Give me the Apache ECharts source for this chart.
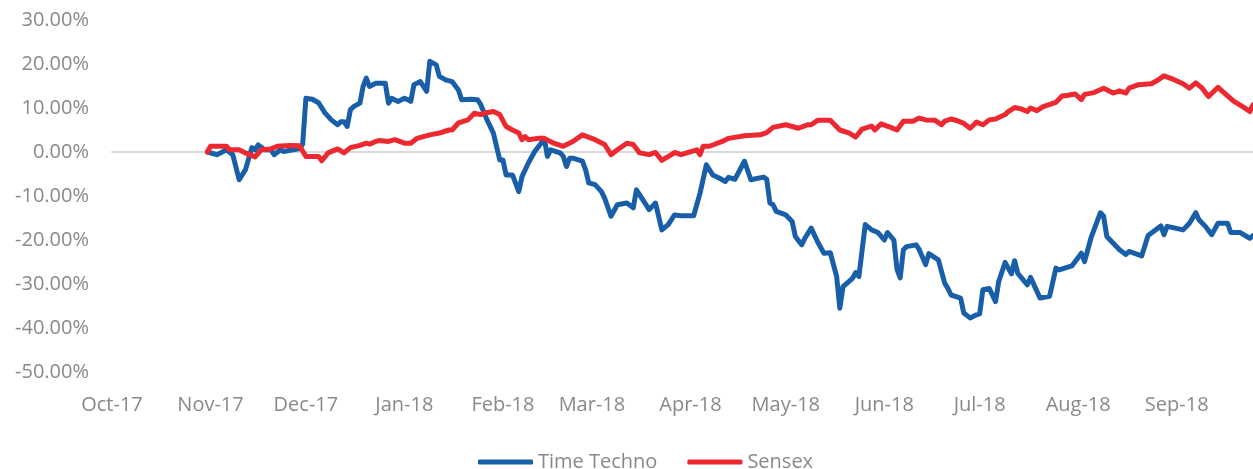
<!DOCTYPE html>
<html>
<head>
<meta charset="utf-8">
<script src="https://cdn.jsdelivr.net/npm/echarts@6/dist/echarts.min.js"></script>
<style>html,body{margin:0;padding:0;background:#fff;}#c{width:1253px;height:469px;}</style>
</head>
<body>
<div id="c"></div>
<script>
// Month ticks on the date axis
const monthStarts = ['2017-10-01','2017-11-01','2017-12-01','2018-01-01','2018-02-01','2018-03-01','2018-04-01','2018-05-01','2018-06-01','2018-07-01','2018-08-01','2018-09-01'];
const tickLabels = ['Oct-17','Nov-17','Dec-17','Jan-18','Feb-18','Mar-18','Apr-18','May-18','Jun-18','Jul-18','Aug-18','Sep-18'];
const yTicks = [-50,-40,-30,-20,-10,0,10,20,30];
const axisEnd = '2018-09-25';

// Time Techno (% return)
const ttDates = ['2017-10-31','2017-11-03','2017-11-05','2017-11-06','2017-11-08','2017-11-10','2017-11-12','2017-11-14','2017-11-15','2017-11-16','2017-11-18','2017-11-20','2017-11-21','2017-11-23','2017-11-24','2017-11-27','2017-11-29','2017-11-30',
'2017-12-01','2017-12-03','2017-12-05','2017-12-07','2017-12-09','2017-12-11','2017-12-12','2017-12-13','2017-12-14','2017-12-15','2017-12-16','2017-12-18','2017-12-19','2017-12-20','2017-12-21','2017-12-23','2017-12-26','2017-12-27','2017-12-28','2017-12-30',
'2018-01-01','2018-01-02','2018-01-03','2018-01-04','2018-01-06','2018-01-07','2018-01-08','2018-01-09','2018-01-11','2018-01-12','2018-01-14','2018-01-16','2018-01-18','2018-01-19','2018-01-22','2018-01-24','2018-01-25','2018-01-27','2018-01-29','2018-01-31',
'2018-02-01','2018-02-02','2018-02-04','2018-02-06','2018-02-07','2018-02-09','2018-02-11','2018-02-13','2018-02-14','2018-02-15','2018-02-16','2018-02-19','2018-02-20','2018-02-21','2018-02-22','2018-02-23','2018-02-26','2018-02-27','2018-02-28',
'2018-03-02','2018-03-04','2018-03-05','2018-03-07','2018-03-09','2018-03-12','2018-03-14','2018-03-15','2018-03-17','2018-03-19','2018-03-21','2018-03-23','2018-03-25','2018-03-27','2018-03-29',
'2018-04-02','2018-04-04','2018-04-06','2018-04-08','2018-04-10','2018-04-12','2018-04-13','2018-04-15','2018-04-18','2018-04-20','2018-04-24','2018-04-25','2018-04-26','2018-04-27','2018-04-28',
'2018-05-01','2018-05-03','2018-05-04','2018-05-06','2018-05-07','2018-05-09','2018-05-11','2018-05-13','2018-05-15','2018-05-17','2018-05-18','2018-05-19','2018-05-22','2018-05-23','2018-05-24','2018-05-26','2018-05-28','2018-05-30',
'2018-06-01','2018-06-02','2018-06-04','2018-06-05','2018-06-06','2018-06-07','2018-06-08','2018-06-11','2018-06-12','2018-06-14','2018-06-15','2018-06-18','2018-06-20','2018-06-21','2018-06-22','2018-06-25','2018-06-26','2018-06-28','2018-06-30',
'2018-07-01','2018-07-02','2018-07-04','2018-07-06','2018-07-07','2018-07-09','2018-07-11','2018-07-12','2018-07-13','2018-07-16','2018-07-17','2018-07-20','2018-07-23','2018-07-25','2018-07-26','2018-07-30',
'2018-08-02','2018-08-03','2018-08-05','2018-08-08','2018-08-09','2018-08-10','2018-08-14','2018-08-16','2018-08-17','2018-08-21','2018-08-23','2018-08-27','2018-08-28','2018-08-29',
'2018-09-03','2018-09-05','2018-09-07','2018-09-08','2018-09-10','2018-09-12','2018-09-14','2018-09-17','2018-09-18','2018-09-21','2018-09-23','2018-09-24','2018-09-25'];
const ttValues = [0,-0.6,0.1,0.5,-0.6,-6.3,-4,1.0,0.5,1.6,0.5,0.5,-0.6,0.5,0.1,0.5,0.8,1.8,
12.2,12.0,11.2,8.9,7.3,6.2,6.9,6.9,5.8,9.6,10.3,11.1,14.9,16.8,14.9,15.6,15.6,11.1,12.2,11.5,
12.2,11.9,11.5,15.3,16.0,14.9,13.8,20.6,19.8,17.2,16.4,16.0,14.1,11.9,12.0,11.9,10.8,7.3,4.3,-1.8,
-1.8,-5.2,-5.2,-9.0,-5.6,-2.5,0.1,2.0,3.1,-1.0,0.5,-0.2,-1.0,-3.3,-1.4,-1.4,-2.1,-4.0,-7.0,
-7.4,-9.0,-10.5,-14.6,-12.0,-11.6,-12.7,-8.6,-10.8,-13.1,-11.6,-17.7,-16.5,-14.3,-14.5,
-14.5,-9.4,-2.9,-5.2,-5.9,-6.7,-5.75,-6.2,-2.1,-6.3,-5.7,-6.2,-11.6,-12.0,-13.5,
-14.3,-15.8,-19.2,-21.1,-19.6,-17.3,-20.4,-23.0,-22.9,-28.3,-35.5,-30.6,-28.7,-27.4,-28.3,-16.5,-17.7,-18.3,
-20.0,-18.3,-20.0,-26.7,-28.6,-22.2,-21.5,-21.1,-22.2,-25.6,-23.1,-24.5,-29.8,-31.0,-32.5,-33.2,-36.6,-37.7,-37.0,
-36.8,-31.3,-31.0,-34.0,-29.4,-25.1,-27.7,-24.7,-27.6,-30.2,-28.5,-33.2,-32.8,-26.4,-26.8,-25.9,
-23.0,-24.9,-19.6,-13.8,-14.6,-19.2,-22.2,-23.3,-22.6,-23.6,-19.0,-16.8,-18.8,-16.9,
-17.7,-16.2,-13.8,-15.4,-16.9,-18.8,-16.2,-16.2,-18.3,-18.3,-19.2,-19.6,-19.0];

// Sensex (% return)
const sxDates = ['2017-10-31','2017-11-01','2017-11-03','2017-11-06','2017-11-07','2017-11-10','2017-11-12','2017-11-15','2017-11-17','2017-11-20','2017-11-22','2017-11-26','2017-11-29',
'2017-12-01','2017-12-05','2017-12-06','2017-12-08','2017-12-11','2017-12-13','2017-12-15','2017-12-18','2017-12-20','2017-12-21','2017-12-23','2017-12-24','2017-12-27','2017-12-29',
'2018-01-01','2018-01-03','2018-01-05','2018-01-09','2018-01-12','2018-01-15','2018-01-16','2018-01-18','2018-01-21','2018-01-23','2018-01-25','2018-01-26','2018-01-29','2018-01-31',
'2018-02-02','2018-02-04','2018-02-06','2018-02-07','2018-02-08','2018-02-09','2018-02-12','2018-02-14','2018-02-17','2018-02-20','2018-02-23','2018-02-26',
'2018-03-02','2018-03-05','2018-03-07','2018-03-09','2018-03-12','2018-03-14','2018-03-16','2018-03-19','2018-03-21','2018-03-23','2018-03-26','2018-03-27','2018-03-29',
'2018-04-03','2018-04-04','2018-04-05','2018-04-07','2018-04-11','2018-04-13','2018-04-18','2018-04-23','2018-04-25','2018-04-27',
'2018-05-01','2018-05-05','2018-05-08','2018-05-09','2018-05-11','2018-05-15','2018-05-18','2018-05-21','2018-05-23','2018-05-25','2018-05-28','2018-05-29','2018-05-31',
'2018-06-03','2018-06-05','2018-06-07','2018-06-10','2018-06-12','2018-06-14','2018-06-17','2018-06-19','2018-06-20','2018-06-22','2018-06-24','2018-06-26','2018-06-28','2018-06-30',
'2018-07-02','2018-07-04','2018-07-06','2018-07-09','2018-07-10','2018-07-12','2018-07-14','2018-07-16','2018-07-17','2018-07-19','2018-07-21','2018-07-25','2018-07-27','2018-07-28','2018-07-31',
'2018-08-02','2018-08-03','2018-08-06','2018-08-09','2018-08-12','2018-08-14','2018-08-16','2018-08-17','2018-08-20','2018-08-24','2018-08-26','2018-08-28','2018-08-31',
'2018-09-03','2018-09-05','2018-09-07','2018-09-09','2018-09-11','2018-09-14','2018-09-16','2018-09-19','2018-09-22','2018-09-24','2018-09-25'];
const sxValues = [0,1.3,1.3,1.3,0.5,0.5,-0.2,-1.1,0.5,0.7,1.3,1.5,1.4,
-1.0,-1.0,-2.0,-0.2,0.7,-0.2,1.0,1.5,2.0,1.8,2.4,2.6,2.4,2.8,
2.0,2.0,3.1,3.9,4.3,5.0,5.0,6.6,7.3,8.8,8.5,8.8,9.2,8.5,
5.8,5.0,4.3,2.8,3.5,2.8,3.1,3.1,2.0,1.3,2.4,3.9,
2.8,1.7,-0.6,0.5,2.0,1.7,-0.2,-0.6,-0.1,-1.9,-0.6,-0.1,-0.6,
0.5,-0.6,1.3,1.3,2.4,3.1,3.7,3.9,4.4,5.6,
6.2,5.4,6.2,6.2,7.2,7.2,5.0,4.3,3.4,5.2,5.9,5.0,6.4,
5.6,5.0,7.0,7.0,7.7,7.3,7.2,6.2,7.0,7.5,7.1,6.5,5.4,6.8,
6.2,7.3,7.5,8.5,9.2,10.1,9.8,9.2,10.0,9.4,10.3,11.3,12.8,12.8,13.2,
11.9,13.1,13.5,14.5,13.4,13.9,13.4,14.5,15.3,15.5,16.3,17.3,16.5,
15.5,14.5,15.7,14.5,12.6,14.7,13.4,11.5,10.2,9.2,10.7];

const ts = s => { const p = s.split('-').map(Number); return Date.UTC(p[0], p[1] - 1, p[2]); };
const toPairs = (d, v) => d.map((x, i) => [ts(x), v[i]]);
const monthTs = monthStarts.map(ts);
const textColor = '#898989';
const fontFam = '"Open Sans", "Liberation Sans", sans-serif';

const chart = echarts.init(document.getElementById('c'), null, {renderer: 'canvas'});
chart.setOption({
  animation: false,
  backgroundColor: '#fff',
  grid: {left: 112, right: 0, top: 20, bottom: 97, containLabel: false},
  legend: {
    left: 473, top: 447,
    itemWidth: 55, itemHeight: 5, itemGap: 30,
    icon: 'roundRect',
    textStyle: {color: textColor, fontSize: 20, fontFamily: fontFam},
    data: ['Time Techno', 'Sensex']
  },
  xAxis: [{
    type: 'value',
    min: monthTs[0], max: ts(axisEnd),
    axisLine: {show: false, onZero: false},
    axisTick: {show: false},
    splitLine: {show: false},
    axisLabel: {
      customValues: monthTs,
      color: textColor, fontSize: 20, fontFamily: fontFam, margin: 23,
      formatter: function (v) {
        let best = 0, bd = Infinity;
        monthTs.forEach((t, i) => { const dd = Math.abs(t - v); if (dd < bd) { bd = dd; best = i; } });
        return tickLabels[best];
      }
    }
  }, {
    type: 'value',
    min: monthTs[0], max: ts(axisEnd),
    axisLine: {show: true, onZero: true, lineStyle: {color: '#d9d9d9', width: 2}},
    axisTick: {show: false},
    axisLabel: {show: false},
    splitLine: {show: false}
  }],
  yAxis: {
    type: 'value',
    min: yTicks[0], max: yTicks[yTicks.length - 1], interval: 10,
    axisLine: {show: false},
    axisTick: {show: false},
    splitLine: {show: false},
    axisLabel: {
      color: textColor, fontSize: 20, fontFamily: fontFam, margin: 23,
      formatter: v => v.toFixed(2) + '%'
    }
  },
  series: [{
    name: 'Time Techno',
    type: 'line',
    xAxisIndex: 0,
    data: toPairs(ttDates, ttValues),
    showSymbol: false, symbol: 'none',
    lineStyle: {color: '#185ea9', width: 5, join: 'round', cap: 'round'},
    itemStyle: {color: '#185ea9'},
    z: 3
  }, {
    name: 'Sensex',
    type: 'line',
    xAxisIndex: 0,
    data: toPairs(sxDates, sxValues),
    showSymbol: false, symbol: 'none',
    lineStyle: {color: '#ec2830', width: 5, join: 'round', cap: 'round'},
    itemStyle: {color: '#ec2830'},
    z: 4
  }]
});
</script>
</body>
</html>
